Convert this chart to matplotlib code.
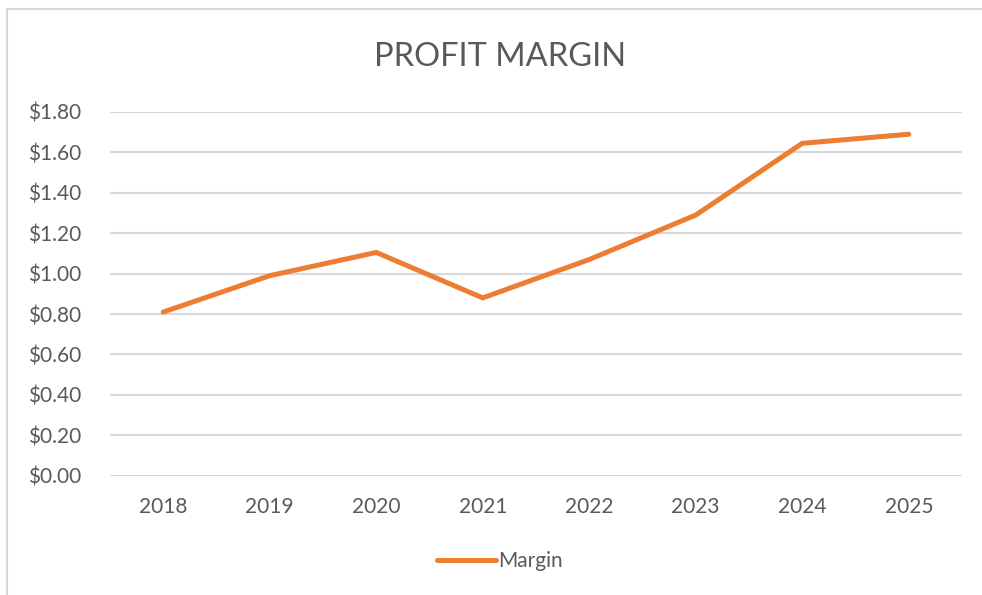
import matplotlib.pyplot as plt
from matplotlib.lines import Line2D
from matplotlib.ticker import FuncFormatter

years = ["2018", "2019", "2020", "2021", "2022", "2023", "2024", "2025"]
margin = [0.81, 0.99, 1.105, 0.88, 1.07, 1.29, 1.645, 1.69]
y_ticks = [0.0, 0.2, 0.4, 0.6, 0.8, 1.0, 1.2, 1.4, 1.6, 1.8]

TEXT = "#595959"
GRID = "#d9d9d9"
ORANGE = "#ED7D31"

plt.rcParams["font.family"] = ["Lato", "DejaVu Sans"]

W, H = 982, 595
fig = plt.figure(figsize=(W / 100, H / 100), dpi=100)
ax = fig.add_axes([110 / W, 1 - 475.7 / H, 852 / W, 363.7 / H])

x = list(range(len(years)))
ax.plot(x, margin, color=ORANGE, linewidth=3.6, solid_capstyle="round",
        solid_joinstyle="miter", label="Margin", zorder=3)

ax.set_xlim(-0.5, len(years) - 0.5)
ax.set_ylim(0, 1.8)
ax.set_xticks(x)
ax.set_xticklabels(years)
ax.set_yticks(y_ticks)
ax.yaxis.set_major_formatter(FuncFormatter(lambda v, p: f"${v:.2f}"))
ax.tick_params(axis="both", length=0, labelsize=15, labelcolor=TEXT)
ax.tick_params(axis="y", pad=21)
ax.tick_params(axis="x", pad=15)
ax.grid(axis="y", color=GRID, linewidth=1.5, zorder=0)
for s in ax.spines.values():
    s.set_visible(False)

fig.text(500 / W, 1 - 57 / H, "PROFIT MARGIN", ha="center", va="center",
         fontsize=23.5, color=TEXT)

leg = ax.legend(loc="center", bbox_to_anchor=(500 / W, 1 - 561 / H),
                bbox_transform=fig.transFigure, frameon=False, fontsize=15,
                handlelength=2.8, handletextpad=0.1, labelcolor=TEXT)

# chart frame (top and left edges visible)
fig.add_artist(Line2D([7 / W, 1], [1 - 9 / H, 1 - 9 / H], color=GRID, linewidth=1.5))
fig.add_artist(Line2D([7 / W, 7 / W], [0, 1 - 9 / H], color=GRID, linewidth=1.5))

fig.savefig("out.png", dpi=100)
